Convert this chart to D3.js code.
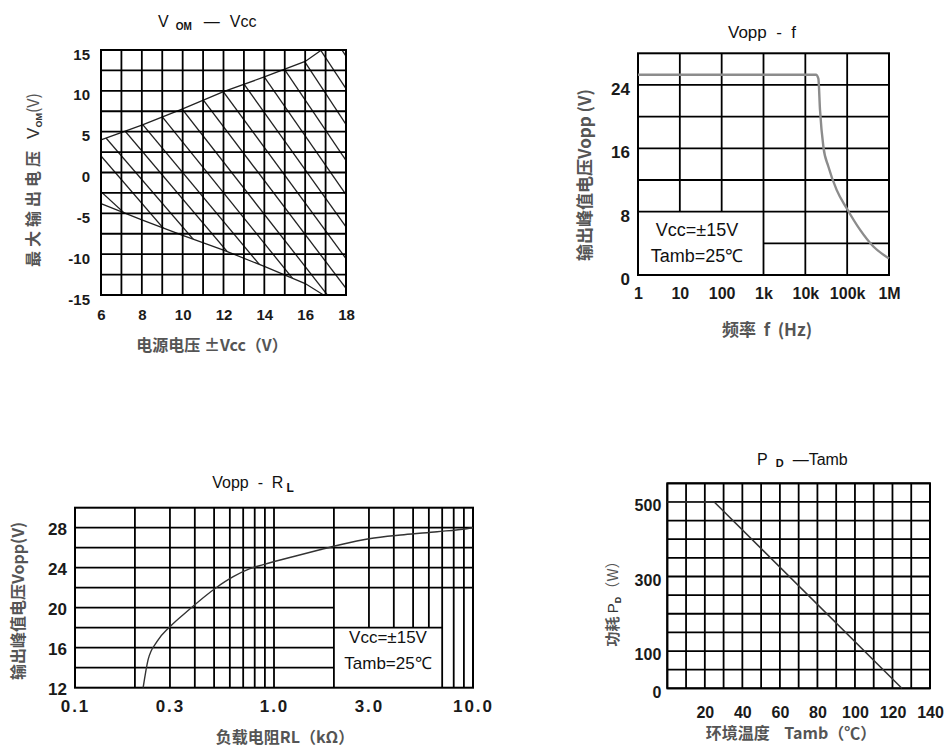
<!DOCTYPE html>
<html>
<head>
<meta charset="utf-8">
<script src="https://cdn.jsdelivr.net/npm/d3@7"></script>
<style>
  body { margin: 0; background: #fff; }
  svg { display: block; background: #fff; }
</style>
</head>
<body>
<svg id="chart" width="952" height="754"></svg>
<script>
// ---------------- data ----------------
// chart 1 : VOM - Vcc
var vccGrid = [6, 7, 8, 9, 10, 11, 12, 13, 14, 15, 16, 17, 18];
var vomGrid = [-15, -12.5, -10, -7.5, -5, -2.5, 0, 2.5, 5, 7.5, 10, 12.5, 15];
var vccTicks = [6, 8, 10, 12, 14, 16, 18];
var vomTicks = [15, 10, 5, 0, -5, -10, -15];
var upperVcc = [6, 8, 10, 12, 14, 16, 16.8];
var upperVom = [4, 5.8, 7.8, 9.9, 11.7, 13.6, 15];
var lowerVcc = [6, 8, 10, 12, 14, 16, 16.9];
var lowerVom = [-3.8, -5.8, -7.7, -9.5, -11.5, -13.6, -15];
// hatch lines: Vcc where each crosses 0 V, and its slope (V per V)
var hatchZero = [4.98, 6.7, 7.7, 8.9, 10.0, 11.2, 12.4, 13.7, 14.9, 16.1, 17.25, 18.4, 19.55, 20.7, 21.75];
var hatchSlope = [-2.3, -2.9, -2.9, -2.95, -3.0, -3.1, -3.2, -3.3, -3.4, -3.5, -3.6, -3.7, -3.8, -3.8, -3.8];

// chart 2 : Vopp - f
var freqTicks = [1, 10, 100, 1e3, 1e4, 1e5, 1e6];
var freqLabels = ["1", "10", "100", "1k", "10k", "100k", "1M"];
var freqGridFull = [1e3, 1e4, 1e5];
var freqGridTop = [10, 100];
var voppTicks2 = [0, 8, 16, 24];
var voppGridFull = [8, 12, 16, 20, 24];
var voppGridRight = [4];
var curveFreq = [1, 18000, 20500, 22400, 27000, 35500, 56000, 98000, 204000, 423000, 1000000];
var curveVopp = [25.3, 25.3, 24.8, 20.9, 16.2, 13.7, 10.75, 8.4, 5.7, 3.6, 2.1];

// chart 3 : Vopp - RL
var rlTicks = [0.1, 0.3, 1, 3, 10];
var rlLabels = ["0.1", "0.3", "1.0", "3.0", "10.0"];
var rlGridFull = [0.2, 0.3, 0.4, 0.5, 0.6, 0.7, 0.8, 0.9, 1, 2, 7, 8, 9];
var rlGridTop = [3, 4, 5, 6];
var voppTicks3 = [12, 16, 20, 24, 28];
var voppGrid3Full = [22, 24, 26, 28];
var voppGrid3Mid = [18];
var voppGrid3Left = [14, 16, 20];
var curveRl = [0.22, 0.233, 0.258, 0.3, 0.364, 0.512, 0.624, 0.757, 0.883, 1.3, 1.7, 2.15, 3.0, 4.5, 6.6, 9.3, 10];
var curveVopp3 = [12, 14.8, 16.6, 18.1, 19.6, 22, 23.1, 23.9, 24.3, 25.2, 25.8, 26.3, 26.9, 27.3, 27.6, 27.9, 28.0];

// chart 4 : PD - Tamb
var tambGrid = [0, 10, 20, 30, 40, 50, 60, 70, 80, 90, 100, 110, 120, 130, 140];
var pdGrid = [0, 50, 100, 150, 200, 250, 300, 350, 400, 450, 500, 550];
var tambTicks = [20, 40, 60, 80, 100, 120, 140];
var pdTicks = [0, 100, 300, 500];
var lineTamb = [0, 25, 125];
var linePd = [500, 500, 0];

// ---------------- helpers ----------------
var latin = "'Liberation Sans', Arial, sans-serif";
var cjk = "'Noto Sans CJK SC', sans-serif";
var svg = d3.select("#chart");
var defs = svg.append("defs");

function gridV(g, xs, ys, vals, lo, hi) {
  g.append("g").selectAll("line").data(vals).enter().append("line")
    .attr("x1", d => xs(d)).attr("x2", d => xs(d))
    .attr("y1", ys(lo)).attr("y2", ys(hi))
    .attr("stroke", "#000").attr("stroke-width", 1.8);
}
function gridH(g, xs, ys, vals, lo, hi) {
  g.append("g").selectAll("line").data(vals).enter().append("line")
    .attr("y1", d => ys(d)).attr("y2", d => ys(d))
    .attr("x1", xs(lo)).attr("x2", xs(hi))
    .attr("stroke", "#000").attr("stroke-width", 1.8);
}
function frame(g, xs, ys) {
  var x0 = xs.range()[0], x1 = xs.range()[1], y0 = ys.range()[1], y1 = ys.range()[0];
  g.append("rect").attr("x", x0).attr("y", y0).attr("width", x1 - x0).attr("height", y1 - y0)
    .attr("fill", "none").attr("stroke", "#000").attr("stroke-width", 2);
}
function styleAxis(ax, size, dy) {
  ax.select(".domain").remove();
  ax.selectAll("text").attr("font-family", latin).attr("font-size", size)
    .attr("font-weight", "bold").attr("fill", "#1a1a1a");
  if (dy !== undefined) ax.selectAll("text").attr("dy", dy);
}
function label(x, y, txt, size, family, color, rot, weight) {
  var t = svg.append("text")
    .attr("transform", "translate(" + x + "," + y + ")" + (rot ? "rotate(" + rot + ")" : ""))
    .attr("text-anchor", "middle").attr("dy", "0.35em")
    .attr("font-family", family).attr("font-size", size).attr("fill", color)
    .attr("font-weight", weight || "normal")
    .style("white-space", "pre").text(txt);
  return t;
}

// ================= chart 1 =================
var x1 = d3.scaleLinear().domain([6, 18]).range([101, 346]);
var y1 = d3.scaleLinear().domain([-15, 15]).range([295, 50]);
var g1 = svg.append("g");

var clipPts = upperVcc.map((v, i) => [x1(v), y1(upperVom[i])])
  .concat([[x1(18), y1(15)], [x1(18), y1(-15)]])
  .concat(lowerVcc.map((v, i) => [x1(v), y1(lowerVom[i])]).reverse());
defs.append("clipPath").attr("id", "hatchClip").append("polygon")
  .attr("points", clipPts.map(p => p.join(",")).join(" "));

g1.append("g").attr("clip-path", "url(#hatchClip)")
  .selectAll("line").data(hatchZero).enter().append("line")
  .attr("x1", x1(6)).attr("y1", (c, i) => y1(hatchSlope[i] * (6 - c)))
  .attr("x2", x1(18)).attr("y2", (c, i) => y1(hatchSlope[i] * (18 - c)))
  .attr("stroke", "#222").attr("stroke-width", 1.3);

var bound1 = d3.line().x(d => x1(d[0])).y(d => y1(d[1]));
g1.append("path").attr("d", bound1(upperVcc.map((v, i) => [v, upperVom[i]])))
  .attr("fill", "none").attr("stroke", "#222").attr("stroke-width", 1.3);
g1.append("path").attr("d", bound1(lowerVcc.map((v, i) => [v, lowerVom[i]])))
  .attr("fill", "none").attr("stroke", "#222").attr("stroke-width", 1.3);

gridV(g1, x1, y1, vccGrid, -15, 15);
gridH(g1, x1, y1, vomGrid, 6, 18);
frame(g1, x1, y1);

g1.append("g").attr("transform", "translate(101,0)")
  .call(d3.axisLeft(y1).tickValues(vomTicks).tickFormat(d => String(d)).tickSize(0).tickPadding(11))
  .call(ax => styleAxis(ax, 15, "0.6em"));
g1.append("g").attr("transform", "translate(0,295)")
  .call(d3.axisBottom(x1).tickValues(vccTicks).tickFormat(d => String(d)).tickSize(0).tickPadding(14))
  .call(ax => styleAxis(ax, 15));

// title V OM — Vcc
var t1 = svg.append("text").attr("x", 158).attr("y", 27)
  .attr("font-family", latin).attr("font-size", 16).attr("fill", "#111");
t1.append("tspan").text("V");
t1.append("tspan").attr("dx", 7).attr("dy", 3).attr("font-size", 10).attr("font-weight", "bold").text("OM");
t1.append("tspan").attr("dx", 12).attr("dy", -3).text("—");
t1.append("tspan").attr("dx", 10).text("Vcc");

// y label
var yl1 = svg.append("text").attr("transform", "translate(33,180)rotate(-90)")
  .attr("text-anchor", "middle").attr("dy", "0.35em").attr("fill", "#555");
yl1.append("tspan").attr("font-family", cjk).attr("font-size", 16).attr("font-weight", "bold")
  .attr("letter-spacing", 4).text("最大输出电压");
yl1.append("tspan").attr("dx", 8).attr("font-family", latin).attr("font-size", 17).attr("fill", "#333").text("V");
yl1.append("tspan").attr("font-family", latin).attr("font-size", 9).attr("font-weight", "bold").attr("dy", 3).attr("fill", "#333").text("OM");
yl1.append("tspan").attr("font-family", cjk).attr("font-size", 16).attr("dy", -3).text("(V)");

label(212, 345, "电源电压 ±Vcc（V）", 16, cjk, "#555", 0, "bold");

// ================= chart 2 =================
var x2 = d3.scaleLog().domain([1, 1e6]).range([638, 889]);
var y2 = d3.scaleLinear().domain([0, 28]).range([275, 53.3]);
var g2 = svg.append("g");

gridV(g2, x2, y2, freqGridFull, 0, 28);
gridV(g2, x2, y2, freqGridTop, 8, 28);
gridH(g2, x2, y2, voppGridFull, 1, 1e6);
gridH(g2, x2, y2, voppGridRight, 1e3, 1e6);
frame(g2, x2, y2);

var line2 = d3.line().x(d => x2(d[0])).y(d => y2(d[1])).curve(d3.curveMonotoneX);
g2.append("path").attr("d", line2(curveFreq.map((f, i) => [f, curveVopp[i]])))
  .attr("fill", "none").attr("stroke", "#8c8c8c").attr("stroke-width", 2.4);

g2.append("g").attr("transform", "translate(638,0)")
  .call(d3.axisLeft(y2).tickValues(voppTicks2).tickFormat(d => String(d)).tickSize(0).tickPadding(8))
  .call(ax => styleAxis(ax, 17, "0.55em"));
g2.append("g").attr("transform", "translate(0,275)")
  .call(d3.axisBottom(x2).tickValues(freqTicks).tickFormat((d, i) => freqLabels[i]).tickSize(0).tickPadding(13))
  .call(ax => styleAxis(ax, 16));

label(762, 32, "Vopp  -  f", 17, latin, "#111");
label(585, 175, "输出峰值电压Vopp (V)", 17, cjk, "#555", -90, "bold");
label(767, 330, "频率  f  (Hz)", 17, cjk, "#555", 0, "bold");
label(697, 230, "Vcc=±15V", 18, latin, "#111");
label(697, 256, "Tamb=25℃", 18, latin, "#111");

// ================= chart 3 =================
var x3 = d3.scaleLog().domain([0.1, 10]).range([75, 473]);
var y3 = d3.scaleLinear().domain([12, 30]).range([687.7, 507.7]);
var g3 = svg.append("g");

gridV(g3, x3, y3, rlGridFull, 12, 30);
gridV(g3, x3, y3, rlGridTop, 18, 30);
gridH(g3, x3, y3, voppGrid3Full, 0.1, 10);
gridH(g3, x3, y3, voppGrid3Mid, 0.1, 7);
gridH(g3, x3, y3, voppGrid3Left, 0.1, 2);
frame(g3, x3, y3);

var line3 = d3.line().x(d => x3(d[0])).y(d => y3(d[1])).curve(d3.curveMonotoneX);
g3.append("path").attr("d", line3(curveRl.map((r, i) => [r, curveVopp3[i]])))
  .attr("fill", "none").attr("stroke", "#333").attr("stroke-width", 1.4);

g3.append("g").attr("transform", "translate(75,0)")
  .call(d3.axisLeft(y3).tickValues(voppTicks3).tickFormat(d => String(d)).tickSize(0).tickPadding(8))
  .call(ax => styleAxis(ax, 17, "0.4em"));
g3.append("g").attr("transform", "translate(0,687.7)")
  .call(d3.axisBottom(x3).tickValues(rlTicks).tickFormat((d, i) => rlLabels[i]).tickSize(0).tickPadding(12))
  .call(ax => { styleAxis(ax, 17); ax.selectAll("text").attr("letter-spacing", 2); });

var t3 = svg.append("text").attr("x", 253).attr("y", 488).attr("text-anchor", "middle")
  .attr("font-family", latin).attr("font-size", 16).attr("fill", "#111");
t3.append("tspan").text("Vopp  -  R").style("white-space", "pre");
t3.append("tspan").attr("font-size", 12).attr("dx", 3).attr("dy", 4).attr("font-weight", "bold").text("L");

label(18, 601, "输出峰值电压Vopp(V)", 16, cjk, "#555", -90, "bold");
label(285, 737, "负载电阻RL（kΩ）", 16, cjk, "#555", 0, "bold");
label(388, 637, "Vcc=±15V", 17, latin, "#111");
label(388, 663, "Tamb=25℃", 17, latin, "#111");

// ================= chart 4 =================
var x4 = d3.scaleLinear().domain([0, 140]).range([667.3, 930]);
var y4 = d3.scaleLinear().domain([0, 550]).range([688.3, 483.3]);
var g4 = svg.append("g");

gridV(g4, x4, y4, tambGrid, 0, 550);
gridH(g4, x4, y4, pdGrid, 0, 140);
frame(g4, x4, y4);

var line4 = d3.line().x(d => x4(d[0])).y(d => y4(d[1]));
g4.append("path").attr("d", line4(lineTamb.map((t, i) => [t, linePd[i]])))
  .attr("fill", "none").attr("stroke", "#333").attr("stroke-width", 1.5);

g4.append("g").attr("transform", "translate(667.3,0)")
  .call(d3.axisLeft(y4).tickValues(pdTicks).tickFormat(d => String(d)).tickSize(0).tickPadding(6))
  .call(ax => styleAxis(ax, 16, "0.55em"));
g4.append("g").attr("transform", "translate(0,688.3)")
  .call(d3.axisBottom(x4).tickValues(tambTicks).tickFormat(d => String(d)).tickSize(0).tickPadding(18))
  .call(ax => styleAxis(ax, 16));

var t4 = svg.append("text").attr("x", 757).attr("y", 465)
  .attr("font-family", latin).attr("font-size", 16).attr("fill", "#111");
t4.append("tspan").text("P");
t4.append("tspan").attr("dx", 8).attr("dy", 2).attr("font-size", 11).attr("font-weight", "bold").text("D");
t4.append("tspan").attr("dx", 9).attr("dy", -2).text("—Tamb");

var yl4 = svg.append("text").attr("transform", "translate(612,600)rotate(-90)")
  .attr("text-anchor", "middle").attr("dy", "0.35em").attr("fill", "#555");
yl4.append("tspan").attr("font-family", cjk).attr("font-size", 15).attr("font-weight", "bold").text("功耗 ");
yl4.append("tspan").attr("font-family", latin).attr("font-size", 15).attr("fill", "#333").text("P");
yl4.append("tspan").attr("font-family", latin).attr("font-size", 9).attr("font-weight", "bold").attr("dy", 3).attr("fill", "#333").text("D");
yl4.append("tspan").attr("font-family", cjk).attr("font-size", 15).attr("dy", -3).text("（W）");

label(791, 733, "环境温度    Tamb（℃）", 16, cjk, "#555", 0, "bold");
</script>
</body>
</html>
